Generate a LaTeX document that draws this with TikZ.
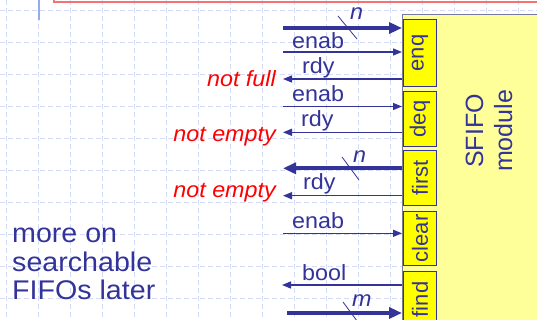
\documentclass[tikz,border=0pt]{standalone}
\usepackage{fontspec}
\setmainfont{Liberation Sans}
\newfontfamily\hsf[FakeStretch=1.06]{Liberation Sans}
\usetikzlibrary{arrows.meta}
\definecolor{navy}{RGB}{51,51,153}
\definecolor{gridc}{RGB}{212,220,246}
\definecolor{modfill}{RGB}{255,255,153}
\definecolor{modline}{RGB}{120,120,155}
\definecolor{portfill}{RGB}{255,255,0}
\definecolor{redtxt}{RGB}{255,0,0}
\definecolor{redframe}{RGB}{245,115,115}
\definecolor{bluebar}{RGB}{150,170,240}
\begin{document}
\begin{tikzpicture}[x=1pt,y=-1pt,
  gridline/.style={draw=gridc, line width=0.8pt, dash pattern=on 5pt off 3pt},
  modbox/.style={draw=modline, fill=modfill, line width=1.2pt, anchor=north west, inner sep=0pt},
  portbox/.style={draw=navy, fill=portfill, line width=0.9pt, anchor=north west, minimum width=33pt, inner sep=0pt},
  portlabel/.style={rotate=90, text=navy, font=\fontsize{22}{24}\selectfont, inner sep=0pt},
  modlabel/.style={rotate=90, text=navy, align=center, font=\fontsize{25}{29}\selectfont, inner sep=0pt},
  sig/.style={draw=navy, line width=1.4pt, -{Triangle[length=9pt,width=7pt]}},
  bus/.style={draw=navy, line width=4pt, -{Triangle[length=13pt,width=11pt]}},
  sigtext/.style={text=navy, font=\hsf\fontsize{22}{24}\selectfont, anchor=base west, inner sep=0pt},
  bustext/.style={text=navy, font=\hsf\itshape\fontsize{22}{24}\selectfont, anchor=base west, inner sep=0pt},
  condtext/.style={text=redtxt, font=\hsf\itshape\fontsize{22}{24}\selectfont, anchor=base east, inner sep=0pt},
  notetext/.style={text=navy, align=left, font=\hsf\fontsize{27}{28.3}\selectfont, anchor=base west, inner sep=0pt},
  slash/.style={draw=navy, line width=0.8pt},
]
\useasboundingbox (0,0) rectangle (537,320);
\clip (0,0) rectangle (537,320);
\fill[white] (0,0) rectangle (537,320);
% background grid
\foreach \i in {0,...,16} \draw[gridline] ({6.5+32*\i},0) -- ({6.5+32*\i},320);
\foreach \j in {0,...,9} \draw[gridline] (0,{10.7+32*\j}) -- (537,{10.7+32*\j});
% frame remnants at top
\draw[draw=redframe, line width=2pt] (54,-20) rectangle (560,2.5);
\draw[draw=bluebar, line width=2pt] (39,0) -- (39,20);

% module
\node[modbox, minimum width=150pt, minimum height=320pt] (mod) at (402,14) {};
\node[modlabel] (modt) at (489,131) {SFIFO\\module};

% ports
\node[portbox, minimum height=67pt] (enq) at (403,19) {};
\node[portbox, minimum height=55pt] (deq) at (403,91) {};
\node[portbox, minimum height=55pt] (first) at (403,150) {};
\node[portbox, minimum height=54pt] (clear) at (403,211) {};
\node[portbox, minimum height=56pt] (find) at (403,271) {};
\node[portlabel] (enqt) at (enq.center) {enq};
\node[portlabel] (deqt) at (deq.center) {deq};
\node[portlabel] (firstt) at (first.center) {first};
\node[portlabel] (cleart) at (clear.center) {clear};
\node[portlabel] (findt) at (find.center) {find};

% enq
\coordinate (c1) at (283,28);
\draw[bus] (c1) -- (c1 -| mod.west);
\draw[slash] (338,16) -- (357,39);
\node[bustext] (n1) at (350,20) {n};
\coordinate (c2) at (283,52);
\draw[sig] (c2) -- (c2 -| mod.west);
\node[sigtext] (l2) at (292,49) {enab};
\coordinate (c3) at (283,79);
\draw[sig] (c3 -| mod.west) -- (c3);
\node[sigtext] (l3) at (302,73.3) {rdy};
\node[condtext] (r3) at (276,86.5) {not full};

% deq
\coordinate (c4) at (283,106.5);
\draw[sig] (c4) -- (c4 -| mod.west);
\node[sigtext] (l4) at (292,101.7) {enab};
\coordinate (c5) at (283,132.3);
\draw[sig] (c5 -| mod.west) -- (c5);
\node[sigtext] (l5) at (301,126.7) {rdy};
\node[condtext] (r5) at (276,141.7) {not empty};

% first
\coordinate (c6) at (283,168.3);
\draw[bus] (c6 -| mod.west) -- (c6);
\draw[slash] (342,157) -- (359,180);
\node[bustext] (n6) at (353,163) {n};
\coordinate (c7) at (283,195.7);
\draw[sig] (c7 -| mod.west) -- (c7);
\node[sigtext] (l7) at (303,189.3) {rdy};
\node[condtext] (r7) at (276,197.7) {not empty};

% clear
\coordinate (c8) at (283,233.3);
\draw[sig] (c8) -- (c8 -| mod.west);
\node[sigtext] (l8) at (292,228.3) {enab};

% find
\coordinate (c9) at (282,285);
\draw[sig] (c9 -| mod.west) -- (c9);
\node[sigtext] (l9) at (302,280) {bool};
\coordinate (c10) at (287,313);
\draw[bus] (c10) -- (c10 -| mod.west);
\draw[slash] (343,302) -- (360,325);
\node[bustext] (n10) at (352,306.7) {m};

% note (base anchor = baseline of last line)
\node[notetext] (note) at (12,299.3) {more on\\searchable\\FIFOs later};
\end{tikzpicture}
\end{document}
